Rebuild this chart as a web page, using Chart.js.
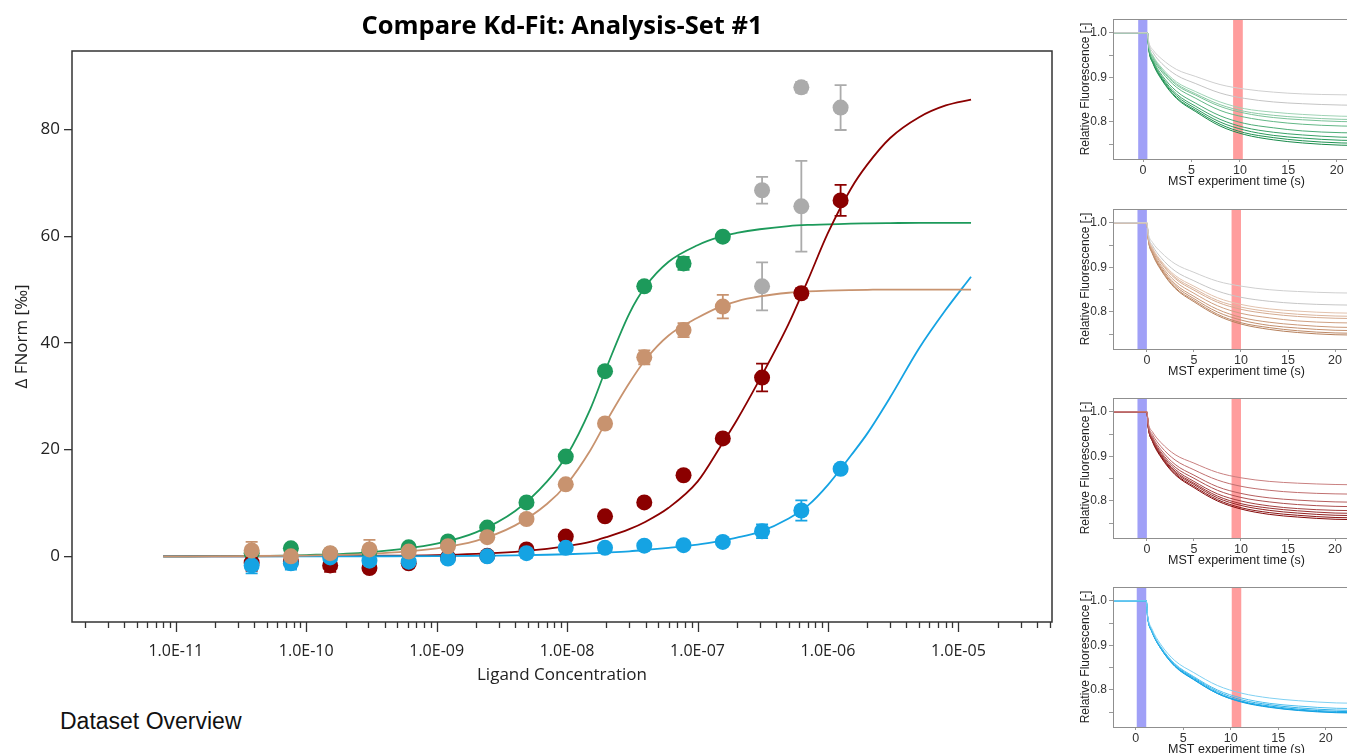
<!DOCTYPE html>
<html>
<head>
<meta charset="utf-8">
<script src="https://cdn.jsdelivr.net/npm/chart.js@4.4.1/dist/chart.umd.min.js"></script>
<style>
  html, body { margin: 0; padding: 0; background: #fff; overflow: hidden; width: 1347px; height: 753px; }
  #mainWrap { position: absolute; left: 0; top: 0; width: 1060px; height: 700px; }
  .mst { position: absolute; left: 1060px; width: 300px; height: 190px; }
  #overview { position: absolute; left: 60px; top: 708px; font: 23px "Liberation Sans", Arial, sans-serif; line-height: 26px; color: #111; }
</style>
</head>
<body>
<div id="mainWrap"><canvas id="main" width="1060" height="700"></canvas></div>
<div class="mst" style="top:0px"><canvas id="mst1" width="300" height="190"></canvas></div>
<div class="mst" style="top:190px"><canvas id="mst2" width="300" height="190"></canvas></div>
<div class="mst" style="top:379px"><canvas id="mst3" width="300" height="190"></canvas></div>
<div class="mst" style="top:568px"><canvas id="mst4" width="300" height="190"></canvas></div>
<div id="overview">Dataset Overview</div>

<script>
// ---- dose response data (ligand concentration in M, delta FNorm in permille) ----
const conc = [3.815e-11, 7.629e-11, 1.526e-10, 3.052e-10, 6.104e-10, 1.221e-9, 2.441e-9, 4.883e-9,
              9.766e-9, 1.953e-8, 3.906e-8, 7.813e-8, 1.5625e-7, 3.125e-7, 6.25e-7, 1.25e-6];

const greenY   = [0.6, 1.5, 0.5, 0.9, 1.7, 2.8, 5.4, 10.1, 18.7, 34.7, 50.6, 54.9, 59.9];
const greenErr = [0.5, 0.5, 0.5, 0.5, 0.5, 0.5, 0.5, 0.5, 0.5, 0.6, 0.9, 1.2, 0.6];
const tanY     = [1.1, 0.0, 0.6, 1.3, 0.9, 1.9, 3.6, 7.0, 13.5, 24.9, 37.3, 42.4, 46.8];
const tanErr   = [1.6, 1.6, 0.5, 1.8, 0.6, 0.6, 0.6, 0.6, 0.5, 0.6, 1.3, 1.3, 2.2];
const redY     = [-1.2, -1.0, -1.7, -2.2, -1.3, -0.2, 0.1, 1.3, 3.7, 7.5, 10.1, 15.2, 22.1, 33.5, 49.3, 66.7];
const redErr   = [1.5, 1.2, 1.2, 0.8, 0.8, 0.5, 0.5, 0.5, 0.5, 0.5, 0.7, 0.5, 0.7, 2.6, 0.9, 2.9];
const blueY    = [-1.7, -1.3, -0.2, -0.8, -1.0, -0.4, 0.0, 0.6, 1.6, 1.6, 2.0, 2.1, 2.7, 4.7, 8.6, 16.4];
const blueErr  = [1.5, 1.2, 0.5, 0.8, 0.6, 0.5, 0.5, 0.9, 0.6, 0.5, 0.6, 0.6, 0.6, 1.3, 1.9, 0.7];

// excluded points (grey)
const greyConc = [3.125e-7, 3.125e-7, 6.25e-7, 6.25e-7, 1.25e-6];
const greyY    = [68.6, 50.6, 87.9, 65.6, 84.1];
const greyErr  = [2.5, 4.5, 1.0, 8.5, 4.2];

// fitted curves
const fitConc  = [8e-12, 3e-11, 1e-10, 3e-10, 1e-9, 2e-9, 4e-9, 7e-9, 1e-8, 1.5e-8, 2e-8, 3e-8, 4e-8, 6e-8,
                  1e-7, 1.5e-7, 2e-7, 3e-7, 5e-7, 7e-7, 1e-6, 1.5e-6, 2e-6, 3e-6, 5e-6, 8e-6, 1.25e-5];
const greenFit = [0.0, 0.08, 0.25, 0.75, 2.4, 4.5, 8.5, 14.0, 19.0, 27.5, 35.3, 45.5, 50.6, 55.2,
                  58.3, 59.9, 60.6, 61.3, 61.9, 62.1, 62.2, 62.35, 62.4, 62.45, 62.5, 62.5, 62.5];
const tanFit   = [0.0, 0.05, 0.15, 0.45, 1.5, 2.9, 5.8, 9.8, 13.6, 19.8, 25.3, 32.5, 36.9, 41.4,
                  44.7, 46.8, 47.8, 48.7, 49.4, 49.65, 49.8, 49.9, 49.95, 50.0, 50.0, 50.0, 50.0];
const redFit   = [0.0, 0.01, 0.04, 0.1, 0.23, 0.45, 0.85, 1.4, 1.9, 2.7, 3.6, 5.1, 6.5, 9.1,
                  14.0, 20.6, 25.5, 33.2, 43.6, 51.7, 60.6, 68.9, 73.4, 78.4, 82.3, 84.5, 85.6];
const blueFit  = [0.0, 0.0, 0.01, 0.02, 0.05, 0.1, 0.18, 0.3, 0.4, 0.55, 0.7, 0.95, 1.2, 1.6,
                  2.2, 2.9, 3.5, 4.6, 7.1, 9.5, 13.4, 18.9, 23.0, 29.8, 39.0, 46.2, 52.4];

const xTickValues = [1e-11, 1e-10, 1e-9, 1e-8, 1e-7, 1e-6, 1e-5];
const xTickLabels = ['1.0E-11', '1.0E-10', '1.0E-09', '1.0E-08', '1.0E-07', '1.0E-06', '1.0E-05'];
const yTickValues = [0, 20, 40, 60, 80];

// ---- MST traces (time in s, relative fluorescence) ----
const mstTicksX = [0, 5, 10, 15, 20];
const mstTicksY = [0.75, 0.8, 0.85, 0.9, 0.95, 1.0];
const mstLabelsY = ['', '0.8', '', '0.9', '', '1.0'];

const mst1Time = [-4, 0.45, 0.6, 1.05, 1.95, 3.45, 5.45, 7.95, 10.45, 13.45, 16.45, 20.45, 24.45];
const mst1Traces = [
  [1, 1, .979, .961, .941, .918, .902, .884, .874, .867, .863, .861, .860],
  [1, 1, .976, .955, .931, .905, .886, .865, .853, .845, .841, .838, .837],
  [1, 1, .972, .948, .921, .890, .868, .845, .830, .822, .817, .813, .812],
  [1, 1, .971, .946, .918, .886, .863, .839, .824, .815, .810, .806, .805],
  [1, 1, .970, .945, .916, .883, .860, .835, .820, .810, .805, .801, .800],
  [1, 1, .969, .942, .912, .878, .853, .826, .811, .801, .795, .791, .790],
  [1, 1, .966, .938, .905, .869, .842, .814, .797, .787, .780, .776, .775],
  [1, 1, .965, .935, .901, .863, .835, .806, .788, .777, .771, .766, .765],
  [1, 1, .964, .933, .898, .859, .830, .800, .782, .770, .764, .759, .758],
  [1, 1, .963, .932, .896, .855, .826, .795, .776, .765, .758, .753, .752],
  [1, 1, .962, .930, .894, .853, .823, .791, .772, .760, .753, .748, .747]
];
const mst1Colors = ['#cfcfcf', '#c4c4c4', '#9fd3b5', '#8ccaa6', '#7ac298', '#62b786', '#4cac76', '#3aa268',
                    '#2a995c', '#1f9252', '#188a4a'];

const mst2Time = [-4, 0, 0.15, 0.6, 1.5, 3, 5, 7.5, 10, 13, 16, 20, 24];
const mst2Traces = [
  [1, 1, .976, .956, .934, .908, .889, .869, .858, .850, .846, .843, .842],
  [1, 1, .972, .949, .922, .892, .870, .847, .833, .824, .819, .816, .815],
  [1, 1, .970, .944, .915, .882, .858, .832, .817, .807, .802, .798, .797],
  [1, 1, .969, .942, .912, .878, .853, .826, .811, .801, .795, .791, .790],
  [1, 1, .968, .941, .910, .875, .849, .822, .806, .796, .790, .786, .785],
  [1, 1, .966, .938, .905, .869, .842, .814, .797, .787, .780, .776, .775],
  [1, 1, .965, .935, .901, .863, .835, .806, .788, .777, .771, .766, .765],
  [1, 1, .964, .933, .898, .859, .830, .800, .782, .770, .764, .759, .758],
  [1, 1, .963, .932, .896, .855, .826, .795, .776, .765, .758, .753, .752],
  [1, 1, .962, .930, .894, .853, .823, .792, .773, .761, .754, .749, .748]
];
const mst2Colors = ['#cfcfcf', '#c6c6c6', '#e2c2ad', '#dbb69e', '#d5ab90', '#cfa183', '#c99878', '#c3906f',
                    '#bd8967', '#b6805c'];

const mst3Time = [-4, 0, 0.15, 0.6, 1.5, 3, 5, 7.5, 10, 13, 16, 20, 24];
const mst3Traces = [
  [1, 1, .975, .955, .931, .904, .885, .864, .852, .844, .840, .837, .836],
  [1, 1, .972, .949, .922, .892, .870, .847, .833, .824, .819, .816, .815],
  [1, 1, .970, .944, .915, .882, .858, .832, .817, .807, .802, .798, .797],
  [1, 1, .968, .941, .910, .876, .851, .824, .808, .798, .792, .788, .787],
  [1, 1, .967, .939, .907, .871, .844, .816, .800, .789, .783, .779, .778],
  [1, 1, .966, .937, .904, .867, .840, .811, .794, .784, .778, .773, .772],
  [1, 1, .965, .936, .902, .864, .837, .807, .790, .779, .773, .768, .767],
  [1, 1, .964, .934, .900, .861, .833, .803, .785, .774, .768, .763, .762],
  [1, 1, .964, .933, .898, .859, .830, .800, .782, .770, .764, .759, .758]
];
const mst3Colors = ['#c98080', '#c07070', '#b65f5f', '#ad5050', '#a34040', '#9a3030', '#912222', '#8a1515', '#840a0a'];

const mst4Time = [-3, 1.1, 1.25, 1.7, 2.6, 4.1, 6.1, 8.6, 11.1, 14.1, 17.1, 21.1, 25.1];
const mst4Traces = [
  [1, 1, .966, .937, .903, .866, .839, .810, .793, .782, .776, .771, .770],
  [1, 1, .964, .933, .898, .859, .830, .800, .782, .770, .764, .759, .758],
  [1, 1, .963, .932, .896, .857, .828, .797, .778, .767, .760, .755, .754],
  [1, 1, .963, .931, .895, .855, .826, .794, .775, .764, .757, .752, .751],
  [1, 1, .962, .931, .894, .854, .824, .792, .774, .762, .755, .750, .749],
  [1, 1, .962, .930, .894, .853, .823, .792, .773, .761, .754, .749, .748]
];
const mst4Colors = ['#7fd0f2', '#4fbfee', '#2fb2ea', '#1aa8e6', '#12a2e3', '#0e9edf'];

// cold (blue) and hot (red) regions per panel, [start, end] in s
const coldBands = [[-0.5, 0.45], [-1, 0], [-1, 0], [0.1, 1.1]];
const hotBands  = [[9.3, 10.3], [9, 10], [9, 10], [10.1, 11.1]];
const mstRanges = [[-3.1, 22.4], [-3.6, 22.65], [-3.6, 22.65], [-2.4, 23.6]];

// ---------------------------------------------------------------
const FONT = '"Open Sans", "Noto Sans", sans-serif';
const ARIAL = '"Liberation Sans", Arial, sans-serif';
const COL = { green: '#1d9a5b', tan: '#c8936f', red: '#8b0000', blue: '#15a3e3', grey: '#ababab' };

const pts = (xs, ys) => ys.map((v, i) => ({ x: xs[i], y: v }));

function series(ys, errs, color, order, xs) {
  return {
    data: pts(xs || conc, ys), err: errs, order: order,
    backgroundColor: color, borderColor: color, borderWidth: 0,
    pointRadius: 8, pointHoverRadius: 8, showLine: false
  };
}
function fit(ys, color, order) {
  return {
    data: pts(fitConc, ys), order: order, showLine: true,
    borderColor: color, backgroundColor: color, borderWidth: 1.8,
    pointRadius: 0, cubicInterpolationMode: 'monotone'
  };
}

const errorBars = {
  id: 'errorBars',
  beforeDatasetsDraw(chart) {
    const { ctx, scales: { x, y } } = chart;
    const sets = chart.data.datasets.filter(d => d.err).sort((a, b) => b.order - a.order);
    sets.forEach(ds => {
      ctx.save();
      ctx.strokeStyle = ds.borderColor;
      ctx.lineWidth = 1.8;
      ds.data.forEach((p, i) => {
        const e = ds.err[i];
        const px = x.getPixelForValue(p.x);
        const y0 = y.getPixelForValue(p.y - e), y1 = y.getPixelForValue(p.y + e);
        ctx.beginPath();
        ctx.moveTo(px, y0); ctx.lineTo(px, y1);
        ctx.moveTo(px - 6, y0); ctx.lineTo(px + 6, y0);
        ctx.moveTo(px - 6, y1); ctx.lineTo(px + 6, y1);
        ctx.stroke();
      });
      ctx.restore();
    });
  }
};

const frameAndTicks = {
  id: 'frameAndTicks',
  afterDraw(chart) {
    const { ctx, chartArea: a, scales: { x } } = chart;
    ctx.save();
    ctx.strokeStyle = '#333';
    ctx.lineWidth = 1.5;
    ctx.strokeRect(a.left, a.top, a.right - a.left, a.bottom - a.top);
    ctx.lineWidth = 1.3;
    ctx.beginPath();
    for (let k = -12; k <= -5; k++) {
      for (let m = 1; m <= 9; m++) {
        const v = m * Math.pow(10, k);
        if (v < x.min || v > x.max) continue;
        const px = Math.round(x.getPixelForValue(v)) + 0.5;
        ctx.moveTo(px, a.bottom);
        ctx.lineTo(px, a.bottom + (m === 1 ? 10 : 6));
      }
    }
    ctx.stroke();
    // title centred over the plot area
    ctx.fillStyle = '#000';
    ctx.font = 'bold 25.5px ' + FONT;
    ctx.textAlign = 'center';
    ctx.textBaseline = 'middle';
    ctx.fillText('Compare Kd-Fit: Analysis-Set #1', (a.left + a.right) / 2, 27);
    ctx.restore();
  }
};

new Chart(document.getElementById('main'), {
  type: 'scatter',
  data: {
    datasets: [
      series(tanY, tanErr, COL.tan, 0),
      series(blueY, blueErr, COL.blue, 1),
      series(redY, redErr, COL.red, 2),
      series(greenY, greenErr, COL.green, 3),
      series(greyY, greyErr, COL.grey, 4, greyConc),
      fit(tanFit, COL.tan, 5),
      fit(blueFit, COL.blue, 6),
      fit(redFit, COL.red, 7),
      fit(greenFit, COL.green, 8)
    ]
  },
  options: {
    responsive: false,
    devicePixelRatio: 1,
    animation: false,
    layout: { padding: { top: 51, right: 5, left: 0, bottom: 0 } },
    plugins: { legend: { display: false }, tooltip: { enabled: false }, title: { display: false } },
    scales: {
      x: {
        type: 'logarithmic',
        min: 1.6e-12, max: 5.22e-5,
        afterBuildTicks: s => { s.ticks = xTickValues.map(v => ({ value: v })); },
        afterFit: s => { s.height = 78; },
        ticks: {
          callback: v => xTickLabels[xTickValues.indexOf(v)] || '',
          font: { family: FONT, size: 16 }, color: '#222', padding: 20,
          maxRotation: 0, autoSkip: false
        },
        grid: { display: false, drawTicks: false },
        border: { display: false },
        title: { display: true, text: 'Ligand Concentration', color: '#222',
                 font: { family: FONT, size: 17 }, padding: { top: 0, bottom: 15 } }
      },
      y: {
        min: -12.3, max: 94.7,
        afterBuildTicks: s => { s.ticks = yTickValues.map(v => ({ value: v })); },
        afterFit: s => { s.width = 72; },
        ticks: { font: { family: FONT, size: 17 }, color: '#222', padding: 4 },
        grid: { drawOnChartArea: false, drawTicks: true, tickLength: 8, color: '#333', lineWidth: 1.3 },
        border: { display: false },
        title: { display: true, text: 'Δ FNorm [‰]', color: '#222',
                 font: { family: FONT, size: 17 }, padding: { top: 12, bottom: 0 } }
      }
    }
  },
  plugins: [errorBars, frameAndTicks]
});

// ---- MST panels ----
const mstDecor = {
  id: 'mstDecor',
  beforeDatasetsDraw(chart) {
    const { ctx, chartArea: a, scales: { x } } = chart;
    const o = chart.options.plugins.mstDecor;
    ctx.save();
    ctx.fillStyle = '#a0a0f7';
    ctx.fillRect(x.getPixelForValue(o.cold[0]), a.top, x.getPixelForValue(o.cold[1]) - x.getPixelForValue(o.cold[0]), a.bottom - a.top);
    ctx.fillStyle = '#ff9d9d';
    ctx.fillRect(x.getPixelForValue(o.hot[0]), a.top, x.getPixelForValue(o.hot[1]) - x.getPixelForValue(o.hot[0]), a.bottom - a.top);
    ctx.restore();
  },
  afterDraw(chart) {
    const { ctx, chartArea: a } = chart;
    ctx.save();
    ctx.strokeStyle = '#8f8f8f';
    ctx.lineWidth = 1;
    ctx.strokeRect(Math.round(a.left) + 0.5, Math.round(a.top) + 0.5, a.right - a.left + 20, Math.round(a.bottom - a.top));
    ctx.restore();
  }
};

function mstChart(id, time, traces, colors, idx) {
  new Chart(document.getElementById(id), {
    type: 'scatter',
    data: {
      datasets: traces.map((tr, i) => ({
        data: pts(time, tr), showLine: true, borderColor: colors[i], borderWidth: 1,
        pointRadius: 0, cubicInterpolationMode: 'monotone'
      }))
    },
    options: {
      responsive: false,
      devicePixelRatio: 1,
      animation: false,
      layout: { padding: { top: 19, right: 0, left: 0, bottom: 0 } },
      plugins: {
        legend: { display: false }, tooltip: { enabled: false },
        mstDecor: { cold: coldBands[idx], hot: hotBands[idx] }
      },
      scales: {
        x: {
          type: 'linear', min: mstRanges[idx][0], max: mstRanges[idx][1],
          afterBuildTicks: s => { s.ticks = mstTicksX.map(v => ({ value: v })); },
          afterFit: s => { s.height = 31; },
          ticks: { font: { family: ARIAL, size: 12.5 }, color: '#333', padding: 1, maxRotation: 0 },
          grid: { drawOnChartArea: false, drawTicks: true, tickLength: 3, color: '#999' },
          border: { display: false },
          title: { display: true, text: 'MST experiment time (s)', color: '#222',
                   font: { family: ARIAL, size: 12.5 }, padding: { top: 0, bottom: 1 } }
        },
        y: {
          min: 0.717, max: 1.031,
          afterBuildTicks: s => { s.ticks = mstTicksY.map(v => ({ value: v })); },
          afterFit: s => { s.width = 53; },
          ticks: {
            callback: v => mstLabelsY[mstTicksY.indexOf(v)],
            font: { family: ARIAL, size: 12 }, color: '#333', padding: 2
          },
          grid: { drawOnChartArea: false, drawTicks: true, tickLength: 4, color: '#999' },
          border: { display: false },
          title: { display: true, text: 'Relative Fluorescence [-]', color: '#222',
                   font: { family: ARIAL, size: 12 }, padding: { top: 18, bottom: 0 } }
        }
      }
    },
    plugins: [mstDecor]
  });
}

mstChart('mst1', mst1Time, mst1Traces, mst1Colors, 0);
mstChart('mst2', mst2Time, mst2Traces, mst2Colors, 1);
mstChart('mst3', mst3Time, mst3Traces, mst3Colors, 2);
mstChart('mst4', mst4Time, mst4Traces, mst4Colors, 3);
</script>
</body>
</html>
